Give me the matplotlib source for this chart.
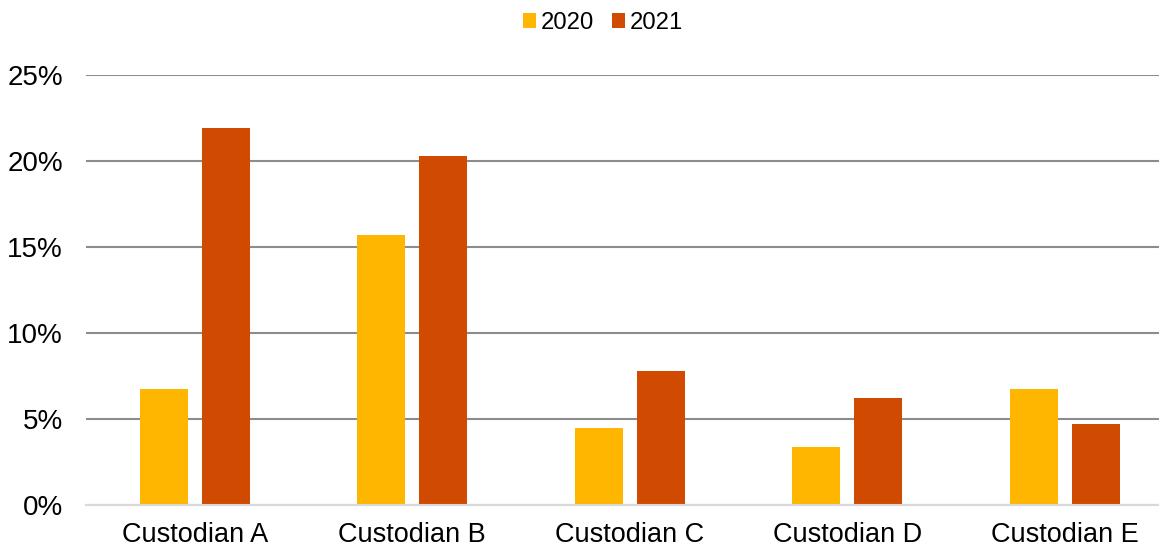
import matplotlib.pyplot as plt
import numpy as np
from matplotlib.ticker import PercentFormatter

plt.rcParams['font.family'] = ['Liberation Sans', 'DejaVu Sans']

categories = ['Custodian A', 'Custodian B', 'Custodian C', 'Custodian D', 'Custodian E']
series_names = ['2020', '2021']
values_2020 = [6.75, 15.7, 4.5, 3.4, 6.75]
values_2021 = [21.9, 20.3, 7.8, 6.25, 4.7]
colors = ['#FFB600', '#D04A02']

fig = plt.figure(figsize=(11.59, 5.47), dpi=100)
# plot area runs past the right edge of the picture (cropped)
ax = fig.add_axes([86 / 1159, 1 - 505 / 547, 1087.5 / 1159, (505 - 75) / 547])

x = np.arange(len(categories))
width = 48 / 217.5
offset = 31 / 217.5
ax.bar(x - offset, values_2020, width, color=colors[0], label=series_names[0], zorder=3)
ax.bar(x + offset, values_2021, width, color=colors[1], label=series_names[1], zorder=3)

ax.set_xlim(-0.5, len(categories) - 0.5)
ax.set_ylim(0, 25)
ax.set_yticks(np.arange(0, 26, 5))
ax.yaxis.set_major_formatter(PercentFormatter(decimals=0))
ax.set_xticks(x)
ax.set_xticklabels(categories)
ax.tick_params(axis='both', length=0, labelcolor='#000000')
ax.tick_params(axis='y', pad=16.5, labelsize=20)
ax.tick_params(axis='x', pad=12, labelsize=19.5)

ax.grid(axis='y', color='#8C8C8C', linewidth=1.5, zorder=0)
for side in ['top', 'right', 'left']:
    ax.spines[side].set_visible(False)
ax.spines['bottom'].set_color('#D9D9D9')
ax.spines['bottom'].set_linewidth(1.5)
ax.spines['bottom'].set_zorder(4)

fig.legend(loc='center', bbox_to_anchor=(603 / 1159, 1 - 23 / 547), ncol=2, frameon=False,
           fontsize=17.2, handlelength=0.55, handleheight=0.55, handletextpad=0.2,
           columnspacing=0.75)

fig.savefig('out.png', dpi=100)
